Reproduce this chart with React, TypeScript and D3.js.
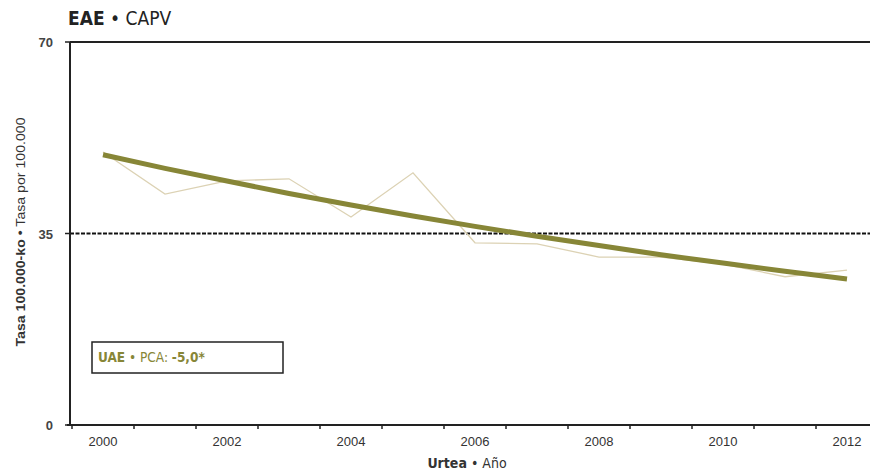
import React from "react";
import * as d3 from "d3";

const years = [2000, 2001, 2002, 2003, 2004, 2005, 2006, 2007, 2008, 2009, 2010, 2011, 2012];
const observed = [49.9, 42.2, 44.6, 45.0, 38.0, 46.1, 33.3, 33.1, 30.7, 30.7, 29.4, 27.1, 28.3];
const trend = [49.4, 46.9, 44.6, 42.3, 40.2, 38.2, 36.3, 34.5, 32.8, 31.1, 29.6, 28.1, 26.7];
const yTicks = [0, 35, 70];
const xTickLabels = [2000, 2002, 2004, 2006, 2008, 2010, 2012];
const refValue = 35;

const W = 870, H = 476;
const left = 70, top = 42, bottom = 425, right = 870;
const olive = "#878637";
const narrow = "'Liberation Sans Narrow', 'DejaVu Sans Condensed', 'Roboto Condensed', sans-serif";
const sans = "'Liberation Sans', Arial, sans-serif";

export default function App() {
  const x = d3.scaleBand<number>().domain(years).range([72, 878]);
  const cx = (yr: number) => (x(yr) as number) + x.bandwidth() / 2;
  const y = d3.scaleLinear().domain([0, 70]).range([bottom, top]);
  const line = d3.line<number>().x((_, i) => cx(years[i])).y((v) => y(v));
  const boundaries = years.map((yr) => x(yr) as number).concat([(x(2012) as number) + x.bandwidth()]);

  return (
    <svg width={W} height={H} style={{ position: "fixed", left: 0, top: 0, background: "#fff" }}>
      <defs>
        <clipPath id="plot">
          <rect x={left} y={top - 5} width={right - left} height={bottom - top + 10} />
        </clipPath>
      </defs>
      <text x={68} y={25} fontFamily={narrow} fontSize={19} fill="#222">
        <tspan fontWeight="bold">EAE</tspan>
        <tspan> • CAPV</tspan>
      </text>

      {/* reference dashed line */}
      <line x1={left} x2={right} y1={y(refValue)} y2={y(refValue)} stroke="#111" strokeWidth={2.2} strokeDasharray="4,1.5" />

      <g clipPath="url(#plot)">
        <path d={line(observed) || ""} fill="none" stroke="#dcd2b4" strokeWidth={1.3} />
        <path d={line(trend) || ""} fill="none" stroke={olive} strokeWidth={5} strokeLinecap="butt" />
      </g>

      {/* axes */}
      <line x1={left} x2={right} y1={top} y2={top} stroke="#222" strokeWidth={2} />
      <line x1={left} x2={left} y1={top} y2={bottom} stroke="#222" strokeWidth={2} />
      <line x1={left - 3} x2={right} y1={bottom} y2={bottom} stroke="#222" strokeWidth={2} />
      {yTicks.map((t) => (
        <g key={t}>
          <line x1={left - 5} x2={left} y1={y(t)} y2={y(t)} stroke="#222" strokeWidth={1.5} />
          <text x={left - 17} y={y(t) + 5} textAnchor="end" fontFamily={sans} fontWeight="bold" fontSize={13} fill="#444">
            {t}
          </text>
        </g>
      ))}
      {boundaries.filter((b) => b <= right).map((b, i) => (
        <line key={i} x1={b} x2={b} y1={bottom} y2={bottom + 4} stroke="#222" strokeWidth={1.5} />
      ))}
      {xTickLabels.map((yr) => (
        <text key={yr} x={cx(yr)} y={bottom + 21} textAnchor="middle" fontFamily={sans} fontSize={13} fill="#333">
          {yr}
        </text>
      ))}

      {/* axis titles */}
      <text
        transform={`translate(25, 232) rotate(-90)`}
        textAnchor="middle"
        fontFamily={sans}
        fontSize={12.5}
        fill="#333"
        textLength={229}
        lengthAdjust="spacingAndGlyphs"
      >
        <tspan fontWeight="bold">Tasa 100.000-ko</tspan>
        <tspan> • Tasa por 100.000</tspan>
      </text>
      <text x={467} y={468} textAnchor="middle" fontFamily={narrow} fontSize={14} fill="#333">
        <tspan fontWeight="bold">Urtea</tspan>
        <tspan> • Año</tspan>
      </text>

      {/* legend box */}
      <rect x={92} y={342} width={191} height={31} fill="#fff" stroke="#222" strokeWidth={1.5} />
      <text x={98} y={362} fontFamily={narrow} fontSize={13.5} fill={olive}>
        <tspan fontWeight="bold">UAE</tspan>
        <tspan> • PCA: </tspan>
        <tspan fontWeight="bold">-5,0*</tspan>
      </text>
    </svg>
  );
}
